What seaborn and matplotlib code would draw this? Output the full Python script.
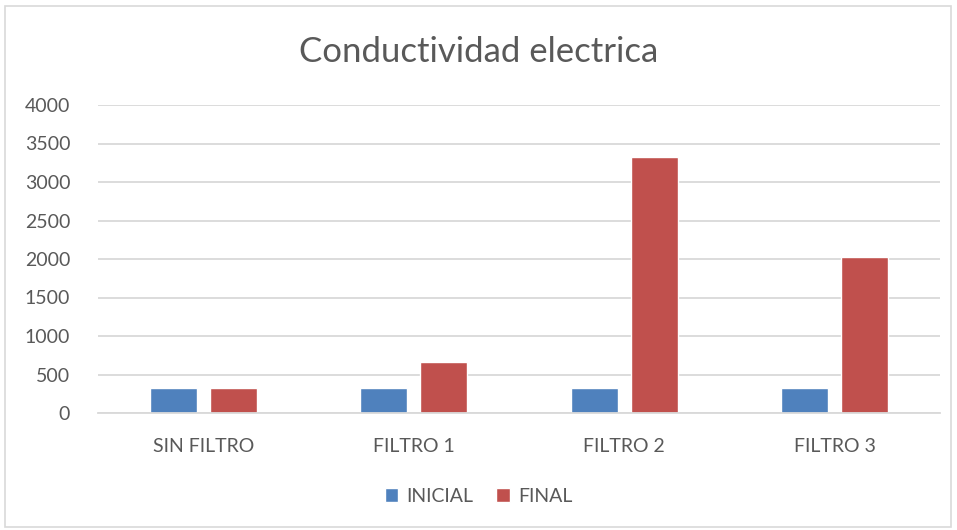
import pandas as pd
import matplotlib
matplotlib.use("Agg")
from matplotlib import pyplot as plt
from matplotlib.patches import Rectangle
import seaborn as sns

# === Data ===
categories = ["SIN FILTRO", "FILTRO 1", "FILTRO 2", "FILTRO 3"]
inicial = [330, 330, 330, 330]
final = [330, 665, 3325, 2025]
series_names = ["INICIAL", "FINAL"]
yticks = [0, 500, 1000, 1500, 2000, 2500, 3000, 3500, 4000]

df = pd.DataFrame({
    "categoria": categories * 2,
    "serie": [series_names[0]] * 4 + [series_names[1]] * 4,
    "valor": inicial + final,
})

text_color = "#595959"
palette = {"INICIAL": "#4F81BD", "FINAL": "#C0504D"}

sns.set_style("white")
plt.rcParams["font.family"] = ["Lato", "DejaVu Sans"]

fig = plt.figure(figsize=(9.57, 5.30), dpi=100)
ax = fig.add_axes([98 / 957, 1 - 413 / 530, (940 - 98) / 957, (413 - 105) / 530])

sns.barplot(data=df, x="categoria", y="valor", hue="serie", palette=palette,
            width=0.57, gap=0.22, ax=ax, legend=True, saturation=1)

ax.set_ylim(0, 4000)
ax.set_xlim(-0.5, 3.5)
ax.set_yticks(yticks)
ax.set_yticklabels([str(t) for t in yticks])
ax.yaxis.grid(True, color="#D9D9D9", linewidth=1.3)
ax.set_axisbelow(True)
for s in ["top", "right", "left"]:
    ax.spines[s].set_visible(False)
ax.spines["bottom"].set_color("#D9D9D9")
ax.spines["bottom"].set_linewidth(1.3)
ax.tick_params(axis="both", length=0, colors=text_color, labelsize=14)
ax.tick_params(axis="x", pad=18)
ax.tick_params(axis="y", pad=20)
ax.set_xlabel("")
ax.set_ylabel("")

fig.text(0.5, 1 - 52 / 530, "Conductividad electrica", ha="center", va="center",
         fontsize=25, color=text_color)

ax.legend(loc="center", bbox_to_anchor=(0.5, 1 - 496 / 530), bbox_transform=fig.transFigure,
          ncol=2, frameon=False, fontsize=14, labelcolor=text_color,
          handlelength=0.7, handleheight=0.7, handletextpad=0.4, columnspacing=1.2)

fig.patches.append(Rectangle((5 / 957, 3 / 530), 946 / 957, 521 / 530, transform=fig.transFigure,
                             fill=False, edgecolor="#D9D9D9", linewidth=1.2))

fig.savefig("out.png", dpi=100)
plt.close()
